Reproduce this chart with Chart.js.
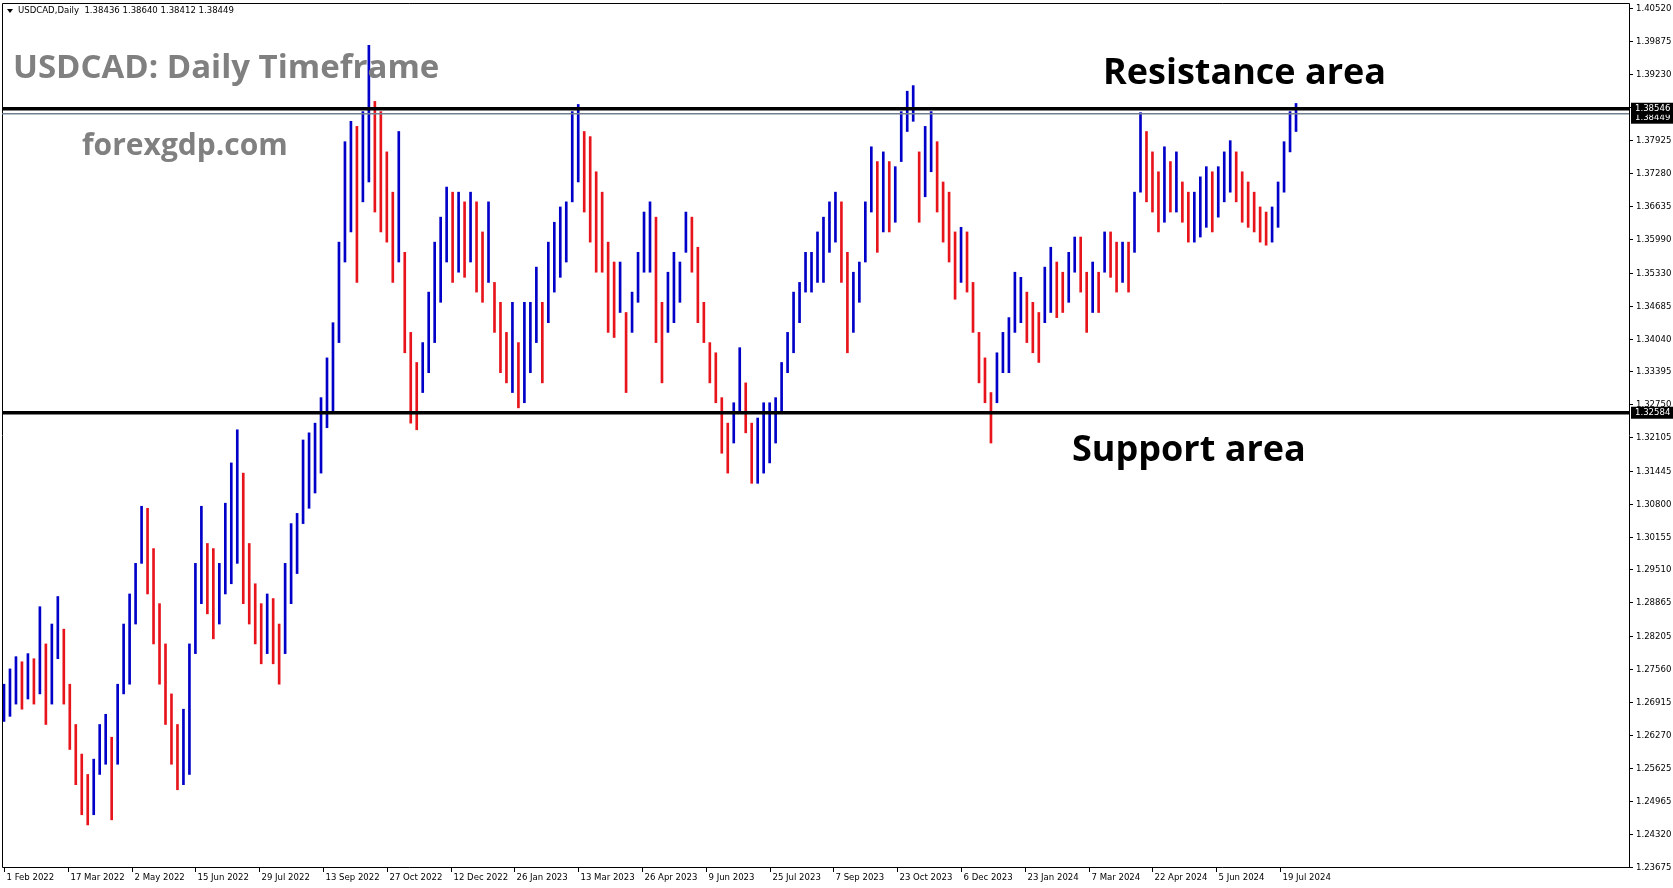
<!DOCTYPE html>
<html><head><meta charset="utf-8">
<script src="https://cdn.jsdelivr.net/npm/chart.js@4/dist/chart.umd.min.js"></script>
<style>html,body{margin:0;padding:0;background:#fff;}#wrap{width:1673px;height:888px;}</style>
</head><body><div id="wrap"><canvas id="c" width="1673" height="888"></canvas></div>
<script>
const highs=[1.2726,1.2756,1.2780,1.2770,1.2786,1.2776,1.2878,1.2805,1.2844,1.2898,1.2834,1.2726,1.2647,1.2589,1.2549,1.2579,1.2647,1.2667,1.2622,1.2726,
1.2844,1.2903,1.2963,1.3075,1.3071,1.2992,1.2884,1.2805,1.2707,1.2647,1.2677,1.2805,1.2963,1.3075,1.3002,1.2992,1.2963,1.3081,1.3160,1.3225,
1.3140,1.3002,1.2923,1.2884,1.2903,1.2894,1.2844,1.2963,1.3041,1.3061,1.3205,1.3219,1.3238,1.3288,1.3366,1.3435,1.3593,1.3790,1.3830,1.3820,
1.3849,1.3979,1.3869,1.3849,1.3770,1.3691,1.3810,1.3573,1.3416,1.3357,1.3396,1.3495,1.3593,1.3642,1.3701,1.3691,1.3691,1.3672,1.3691,1.3672,
1.3613,1.3672,1.3514,1.3475,1.3416,1.3475,1.3396,1.3475,1.3475,1.3544,1.3475,1.3593,1.3632,1.3662,1.3672,1.3849,1.3863,1.3810,1.3800,1.3731,
1.3691,1.3593,1.3554,1.3554,1.3455,1.3495,1.3573,1.3652,1.3672,1.3642,1.3475,1.3534,1.3573,1.3554,1.3652,1.3642,1.3583,1.3475,1.3396,1.3376,
1.3288,1.3238,1.3278,1.3386,1.3317,1.3238,1.3248,1.3278,1.3278,1.3288,1.3357,1.3416,1.3495,1.3514,1.3573,1.3573,1.3613,1.3642,1.3672,1.3691,
1.3672,1.3573,1.3534,1.3554,1.3672,1.3780,1.3751,1.3770,1.3751,1.3741,1.3849,1.3889,1.3900,1.3770,1.3820,1.3849,1.3790,1.3711,1.3691,1.3613,
1.3622,1.3613,1.3514,1.3416,1.3366,1.3298,1.3376,1.3416,1.3445,1.3534,1.3524,1.3495,1.3475,1.3455,1.3544,1.3583,1.3554,1.3534,1.3573,1.3603,
1.3603,1.3534,1.3554,1.3534,1.3613,1.3613,1.3593,1.3593,1.3593,1.3691,1.3847,1.3810,1.3770,1.3731,1.3780,1.3751,1.3770,1.3711,1.3691,1.3691,
1.3721,1.3741,1.3731,1.3741,1.3770,1.3792,1.3770,1.3731,1.3711,1.3691,1.3662,1.3652,1.3662,1.3711,1.3790,1.3849,1.3865];
const lows=[1.2653,1.2663,1.2687,1.2677,1.2697,1.2687,1.2707,1.2647,1.2687,1.2776,1.2687,1.2598,1.2529,1.2470,1.2450,1.2470,1.2549,1.2569,1.2460,1.2569,
1.2707,1.2726,1.2844,1.2963,1.2903,1.2805,1.2726,1.2647,1.2569,1.2519,1.2529,1.2549,1.2786,1.2884,1.2864,1.2815,1.2844,1.2903,1.2923,1.2963,
1.2884,1.2844,1.2805,1.2766,1.2786,1.2766,1.2726,1.2786,1.2884,1.2943,1.3041,1.3071,1.3101,1.3140,1.3229,1.3258,1.3396,1.3554,1.3613,1.3514,
1.3672,1.3711,1.3652,1.3613,1.3593,1.3514,1.3554,1.3376,1.3238,1.3225,1.3298,1.3337,1.3396,1.3475,1.3554,1.3514,1.3534,1.3524,1.3554,1.3495,
1.3475,1.3514,1.3416,1.3337,1.3317,1.3298,1.3268,1.3278,1.3337,1.3396,1.3317,1.3435,1.3495,1.3524,1.3554,1.3672,1.3711,1.3652,1.3593,1.3534,
1.3534,1.3416,1.3406,1.3455,1.3298,1.3416,1.3475,1.3534,1.3534,1.3396,1.3317,1.3416,1.3435,1.3475,1.3573,1.3534,1.3435,1.3396,1.3317,1.3278,
1.3179,1.3140,1.3199,1.3258,1.3219,1.3120,1.3120,1.3140,1.3160,1.3199,1.3258,1.3337,1.3376,1.3435,1.3495,1.3495,1.3514,1.3514,1.3573,1.3593,
1.3514,1.3376,1.3416,1.3475,1.3554,1.3652,1.3573,1.3613,1.3613,1.3632,1.3751,1.3810,1.3830,1.3632,1.3682,1.3731,1.3652,1.3593,1.3554,1.3481,
1.3514,1.3495,1.3416,1.3317,1.3278,1.3199,1.3278,1.3337,1.3337,1.3416,1.3435,1.3396,1.3376,1.3357,1.3435,1.3455,1.3445,1.3455,1.3475,1.3534,
1.3495,1.3416,1.3455,1.3455,1.3534,1.3524,1.3495,1.3514,1.3495,1.3573,1.3691,1.3672,1.3652,1.3613,1.3632,1.3652,1.3652,1.3632,1.3593,1.3593,
1.3603,1.3622,1.3613,1.3642,1.3672,1.3691,1.3672,1.3632,1.3622,1.3613,1.3593,1.3587,1.3593,1.3622,1.3691,1.3770,1.3810];
const dateLabels=['1 Feb 2022','17 Mar 2022','2 May 2022','15 Jun 2022','29 Jul 2022','13 Sep 2022','27 Oct 2022','12 Dec 2022','26 Jan 2023','13 Mar 2023','26 Apr 2023','9 Jun 2023','25 Jul 2023','7 Sep 2023','23 Oct 2023','6 Dec 2023','23 Jan 2024','7 Mar 2024','22 Apr 2024','5 Jun 2024','19 Jul 2024'];
const priceTicks=[1.40520,1.39875,1.39230,1.38585,1.37925,1.37280,1.36635,1.35990,1.35330,1.34685,1.34040,1.33395,1.32750,1.32105,1.31445,1.30800,1.30155,1.29510,1.28865,1.28205,1.27560,1.26915,1.26270,1.25625,1.24965,1.24320,1.23675];
const resistance=1.38546, support=1.32584, lastPrice=1.38449;

const BLUE='#0000c8', RED='#e8141c';
const pts=[], cols=[];
for(let i=0;i<highs.length;i++){
  pts.push({x:i*3, y:[lows[i],highs[i]]});
  const mid=(highs[i]+lows[i])/2, pm=i>0?(highs[i-1]+lows[i-1])/2:mid;
  cols.push(mid>=pm?BLUE:RED);
}
const overlay={id:'overlay',
 afterDatasetsDraw(ch){
  const c=ch.ctx,a=ch.chartArea,xs=ch.scales.x,ys=ch.scales.y;
  c.save();
  c.strokeStyle='#000';c.lineWidth=1;
  c.beginPath();c.moveTo(a.left+0.5,a.top+0.5);c.lineTo(a.right+0.5,a.top+0.5);c.lineTo(a.right+0.5,a.bottom+0.5);c.lineTo(a.left+0.5,a.bottom+0.5);c.closePath();c.stroke();
  const yl=ys.getPixelForValue(lastPrice);
  c.strokeStyle='#708090';c.lineWidth=1.5;c.beginPath();c.moveTo(a.left,yl);c.lineTo(a.right,yl);c.stroke();
  c.strokeStyle='#000';c.lineWidth=3.5;
  [resistance,support].forEach(v=>{const y=ys.getPixelForValue(v);c.beginPath();c.moveTo(a.left,y);c.lineTo(a.right,y);c.stroke();});
  c.font='9.5px "DejaVu Sans Condensed","Liberation Sans",sans-serif';c.fillStyle='#000';c.textBaseline='middle';c.textAlign='left';
  c.lineWidth=1;
  priceTicks.forEach(v=>{const y=Math.round(ys.getPixelForValue(v))+0.5;c.beginPath();c.moveTo(a.right,y);c.lineTo(a.right+4,y);c.stroke();
    if(Math.abs(v-resistance)>0.002) c.fillText(v.toFixed(5),a.right+7,y);});
  [[lastPrice,1],[resistance,0],[support,0]].forEach(([v,o])=>{const y=ys.getPixelForValue(v);
    c.fillStyle='#000';c.fillRect(a.right+2,y-6+o*4,44,12);c.fillStyle='#fff';c.fillText(v.toFixed(5),a.right+6,y+o*4);});
  c.fillStyle='#000';c.textAlign='left';
  dateLabels.forEach((t,i)=>{const x=Math.round(xs.getPixelForValue(i*32))+0.5;c.beginPath();c.moveTo(x,a.bottom);c.lineTo(x,a.bottom+5);c.stroke();
    c.fillText(t,x+2,a.bottom+11);});
  c.font='9.5px "DejaVu Sans Condensed","Liberation Sans",sans-serif';c.textBaseline='middle';
  c.beginPath();c.moveTo(7,9);c.lineTo(13,9);c.lineTo(10,13);c.closePath();c.fill();
  c.fillText('USDCAD,Daily  1.38436 1.38640 1.38412 1.38449',18,11);
  c.textBaseline='alphabetic';
  c.fillStyle='#808080';c.font='bold 33px "Open Sans",sans-serif';
  c.fillText('USDCAD: Daily Timeframe',13,78);
  c.font='bold 30px "Open Sans",sans-serif';c.fillText('forexgdp.com',82,155);
  c.fillStyle='#000';c.font='bold 36px "Open Sans",sans-serif';
  c.fillText('Resistance area',1103,84);
  c.fillText('Support area',1072,461);
  c.restore();
 }};
new Chart(document.getElementById('c'),{
 type:'bar',
 data:{datasets:[{data:pts,backgroundColor:cols,borderWidth:0,barThickness:2,grouped:false}]},
 options:{responsive:false,animation:false,parsing:{xAxisKey:'x',yAxisKey:'y'},
  layout:{padding:{left:2,top:3,right:44,bottom:21}},
  plugins:{legend:{display:false},tooltip:{enabled:false}},
  scales:{x:{type:'linear',min:-1,max:815,display:false,offset:false},
          y:{min:1.23675,max:1.40620,display:false}}},
 plugins:[overlay]});
</script></body></html>
